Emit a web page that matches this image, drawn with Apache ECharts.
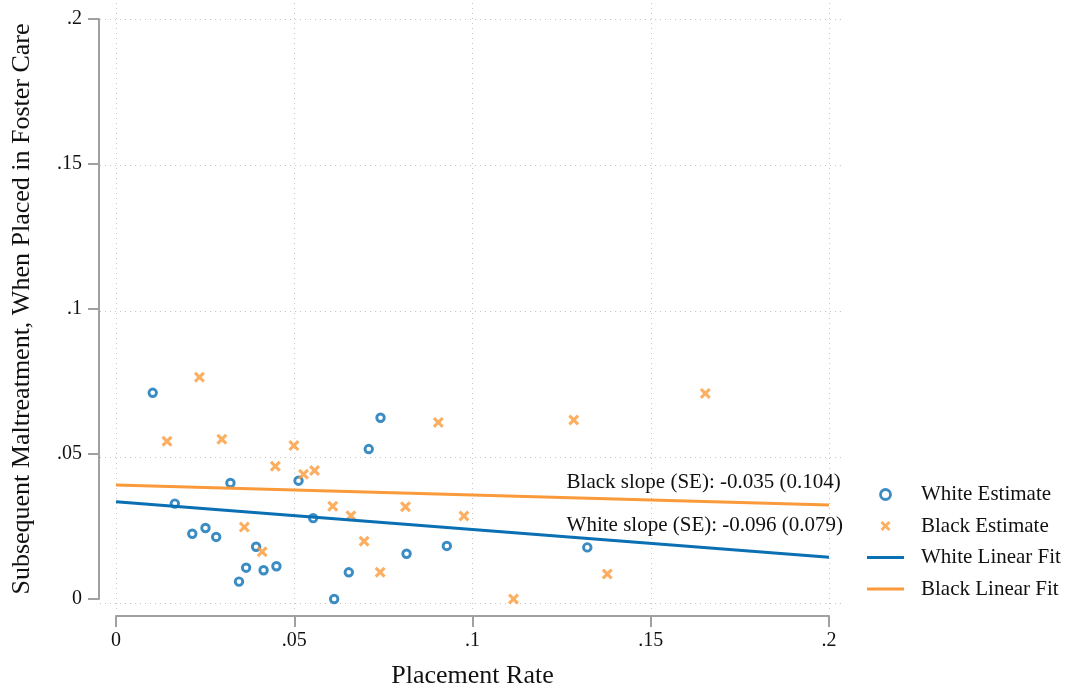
<!DOCTYPE html>
<html>
<head>
<meta charset="utf-8">
<script src="https://cdn.jsdelivr.net/npm/echarts@6.0.0/dist/echarts.min.js"></script>
<style>
	html, body { margin: 0; padding: 0; background: #fff; }
	#chart { width: 1066px; height: 694px; }
</style>
</head>
<body>
<div id="chart"></div>
<script>
// placement rate (x) and subsequent maltreatment (y)
const whiteX = [0.0103, 0.0165, 0.0214, 0.0251, 0.0281, 0.0321, 0.0345, 0.0365, 0.0393, 0.0414,
	0.0450, 0.0512, 0.0553, 0.0612, 0.0653, 0.0709, 0.0742, 0.0815, 0.0928, 0.1322];
const whiteY = [0.0711, 0.0329, 0.0225, 0.0245, 0.0214, 0.0400, 0.0060, 0.0108, 0.0180, 0.0099,
	0.0113, 0.0408, 0.0279, 0.0000, 0.0092, 0.0517, 0.0625, 0.0156, 0.0183, 0.0178];
const blackX = [0.0143, 0.0234, 0.0297, 0.0360, 0.0410, 0.0447, 0.0499, 0.0526, 0.0557, 0.0608,
	0.0659, 0.0696, 0.0741, 0.0812, 0.0904, 0.0976, 0.1115, 0.1284, 0.1378, 0.1653];
const blackY = [0.0544, 0.0765, 0.0551, 0.0248, 0.0163, 0.0458, 0.0529, 0.0430, 0.0443, 0.0320,
	0.0287, 0.0199, 0.0092, 0.0318, 0.0609, 0.0286, 0.0000, 0.0617, 0.0086, 0.0709];

// linear fits, at both ends of the x range
const fitX = [0, 0.2];
const whiteFitY = [0.0335, 0.0144];
const blackFitY = [0.0393, 0.0324];

const ticks = [0, 0.05, 0.1, 0.15, 0.2];
const seriesNames = ["White Estimate", "Black Estimate", "White Linear Fit", "Black Linear Fit"];
const slopeText = ["White slope (SE): -0.096 (0.079)", "Black slope (SE): -0.035 (0.104)"];
const slopeLabelX = 0.1264;
const slopeLabelY = [0.0253, 0.0403];

const BLUE = "#0a6fb3";
const ORANGE = "#fb9a3a";
const AXIS = "#a0a0a0";
const FONT = "Liberation Serif";
const CROSS = "path://M0,2L2,0L5,3L8,0L10,2L7,5L10,8L8,10L5,7L2,10L0,8L3,5Z";
const BAR = "path://M0,0L37,0L37,3L0,3Z";

const zip = (xs, ys) => xs.map((x, i) => [x, ys[i]]);
const fmtTick = (v) => (v === 0 ? "0" : String(v).replace(/^0/, ""));

const chart = echarts.init(document.getElementById("chart"), null, { renderer: "canvas" });

const plotAxis = (extra) => ({
	type: "value",
	gridIndex: 0,
	min: 0,
	max: 0.2,
	interval: 0.05,
	offset: 17,
	axisLine: { show: true, onZero: false, lineStyle: { color: AXIS, width: 2 } },
	axisTick: { show: true, length: 11, lineStyle: { color: AXIS, width: 2 } },
	splitLine: { show: false },
	nameLocation: "middle",
	nameTextStyle: { fontFamily: FONT, fontSize: 26, color: "#111" },
	...extra,
});

const gridAxis = (min, max) => ({
	type: "value",
	gridIndex: 1,
	min, max,
	axisLine: { show: false },
	axisLabel: { show: false },
	axisTick: { show: false, customValues: ticks },
	splitLine: { show: true, lineStyle: { color: "#c6c6c6", width: 1, type: [1, 4] } },
});

const slopeLabel = { show: true, position: "right", distance: 0, fontFamily: FONT, fontSize: 21, color: "#111", formatter: (p) => p.name };

chart.setOption({
	animation: false,
	textStyle: { fontFamily: FONT },
	grid: [
		{ left: 116, top: 19, width: 713, height: 584 },
		{ left: 100, top: 3, width: 745, height: 610 },
	],
	xAxis: [
		plotAxis({
			name: "Placement Rate",
			nameGap: 47,
			position: "bottom",
			axisLabel: { fontFamily: FONT, fontSize: 20, color: "#111", margin: 15, formatter: fmtTick },
		}),
		gridAxis(-16 / 3565, 729 / 3565),
	],
	yAxis: [
		plotAxis({
			name: "Subsequent Maltreatment, When Placed in Foster Care",
			nameGap: 64,
			position: "left",
			axisLabel: { fontFamily: FONT, fontSize: 20, color: "#111", margin: 17, formatter: fmtTick },
		}),
		gridAxis(-10 / 2920, 600 / 2920),
	],
	legend: {
		orient: "vertical",
		left: 862,
		top: 479,
		itemWidth: 37,
		itemHeight: 10,
		itemGap: 10.5,
		textStyle: { fontFamily: FONT, fontSize: 21, color: "#111", padding: [0, 0, 0, 12] },
		data: [
			{ name: seriesNames[0], icon: "circle", itemStyle: { color: "#fff", borderColor: BLUE, borderWidth: 2.8 } },
			{ name: seriesNames[1], icon: CROSS, itemStyle: { color: ORANGE } },
			{ name: seriesNames[2], icon: BAR, itemStyle: { color: BLUE } },
			{ name: seriesNames[3], icon: BAR, itemStyle: { color: ORANGE } },
		],
	},
	series: [
		{
			name: seriesNames[0],
			type: "scatter",
			xAxisIndex: 0, yAxisIndex: 0,
			clip: false,
			symbol: "circle",
			symbolSize: 7.5,
			itemStyle: { color: "#fff", borderColor: BLUE, borderWidth: 2.9 },
			data: zip(whiteX, whiteY),
		},
		{
			name: seriesNames[1],
			type: "scatter",
			xAxisIndex: 0, yAxisIndex: 0,
			clip: false,
			symbol: CROSS,
			symbolSize: 11,
			itemStyle: { color: ORANGE },
			data: zip(blackX, blackY),
		},
		{
			name: seriesNames[2],
			type: "line",
			xAxisIndex: 0, yAxisIndex: 0,
			symbol: "none",
			lineStyle: { color: BLUE, width: 3 },
			itemStyle: { color: BLUE },
			data: zip(fitX, whiteFitY),
			markPoint: {
				symbol: "circle",
				symbolSize: 0,
				label: slopeLabel,
				data: [{ name: slopeText[0], coord: [slopeLabelX, slopeLabelY[0]] }],
			},
		},
		{
			name: seriesNames[3],
			type: "line",
			xAxisIndex: 0, yAxisIndex: 0,
			symbol: "none",
			lineStyle: { color: ORANGE, width: 3 },
			itemStyle: { color: ORANGE },
			data: zip(fitX, blackFitY),
			markPoint: {
				symbol: "circle",
				symbolSize: 0,
				label: slopeLabel,
				data: [{ name: slopeText[1], coord: [slopeLabelX, slopeLabelY[1]] }],
			},
		},
	],
});
</script>
</body>
</html>
